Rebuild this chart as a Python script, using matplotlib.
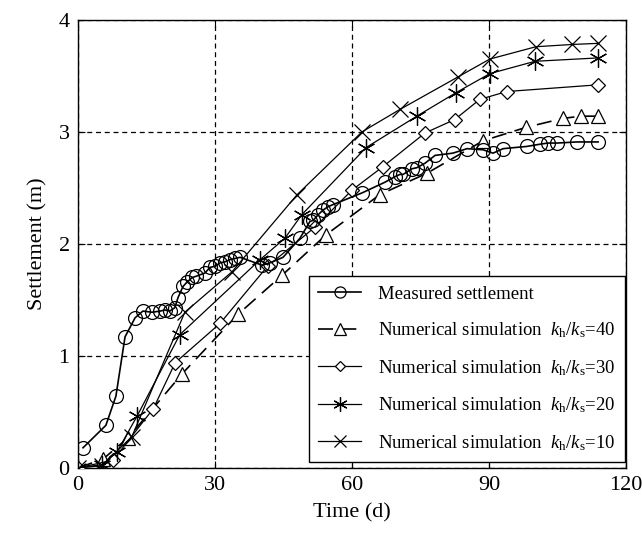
"""Settlement vs time: measured data and numerical simulations for several kh/ks."""
import matplotlib
matplotlib.use("Agg")
import matplotlib.pyplot as plt

plt.rcParams["font.family"] = ["Liberation Serif", "DejaVu Serif"]
plt.rcParams["mathtext.fontset"] = "custom"
plt.rcParams["mathtext.rm"] = "Liberation Serif"
plt.rcParams["mathtext.it"] = "Liberation Serif:italic"

# measured settlement
t_meas = [1.1, 6.1, 8.3, 10.3, 12.5, 14.2, 16.2, 18.0, 19.0, 20.1, 21.2, 21.9, 23.0,
          23.9, 25.0, 25.8, 27.8, 28.9, 30.0, 31.1, 32.2, 33.3, 34.4, 35.5, 40.3,
          42.0, 44.9, 48.6, 50.8, 51.5, 52.6, 53.6, 54.7, 55.8, 62.2, 67.2, 69.4,
          70.5, 71.2, 73.1, 74.2, 76.0, 78.2, 82.1, 85.2, 88.7, 90.9, 93.1, 98.3,
          101.2, 102.9, 104.9, 109.3, 113.9]
s_meas = [0.18, 0.38, 0.64, 1.17, 1.34, 1.40, 1.39, 1.40, 1.41, 1.40, 1.43, 1.52, 1.62,
          1.66, 1.70, 1.71, 1.74, 1.79, 1.80, 1.83, 1.84, 1.86, 1.87, 1.88, 1.81,
          1.83, 1.88, 2.05, 2.20, 2.21, 2.26, 2.30, 2.33, 2.35, 2.455, 2.55, 2.60,
          2.62, 2.62, 2.67, 2.68, 2.72, 2.79, 2.81, 2.85, 2.84, 2.81, 2.85, 2.87,
          2.89, 2.90, 2.90, 2.91, 2.91]

# kh/ks = 40
t_40 = [0, 5.5, 11.0, 22.8, 35.0, 44.7, 54.3, 66.1, 76.4, 88.7, 98.1, 106.2, 110.1, 113.9]
s_40 = [0, 0.08, 0.27, 0.84, 1.37, 1.72, 2.08, 2.44, 2.63, 2.92, 3.04, 3.12, 3.14, 3.14]

# kh/ks = 30
t_30 = [0, 7.7, 16.5, 21.3, 31.1, 41.5, 51.9, 60.0, 66.8, 76.0, 82.5, 88.0, 93.9, 113.9]
s_30 = [0, 0.07, 0.53, 0.94, 1.29, 1.80, 2.15, 2.48, 2.69, 2.99, 3.11, 3.29, 3.36, 3.42]

# kh/ks = 20
t_20 = [0, 5.3, 8.5, 12.9, 22.3, 39.9, 45.3, 49.0, 63.1, 74.2, 82.8, 90.2, 100.1, 113.9]
s_20 = [0, 0.03, 0.14, 0.46, 1.19, 1.86, 2.05, 2.26, 2.86, 3.14, 3.35, 3.52, 3.63, 3.66]

# kh/ks = 10
t_10 = [0, 5.3, 11.8, 23.4, 33.7, 48.0, 62.2, 70.5, 83.2, 90.2, 100.3, 108.2, 113.9]
s_10 = [0, 0.02, 0.28, 1.39, 1.75, 2.44, 3.00, 3.20, 3.49, 3.65, 3.76, 3.78, 3.79]

x_ticks = [0, 30, 60, 90, 120]
y_ticks = [0, 1, 2, 3, 4]

fig = plt.figure(figsize=(6.42, 5.36), dpi=100)
ax = fig.add_axes([0.1215, 0.127, 0.8535, 0.836])

sim_label = r"Numerical simulation  $k_\mathrm{h}/k_\mathrm{s}$=%d"

ax.plot(t_meas, s_meas, "-", color="black", lw=1.2, marker="o", ms=10,
        mfc="none", mew=0.9, label="Measured settlement", zorder=4)
ax.plot(t_40, s_40, color="black", lw=1.2, dashes=(9, 5), marker="^", ms=10,
        mfc="white", mew=0.9, label=sim_label % 40, zorder=3)
ax.plot(t_30, s_30, "-", color="black", lw=0.9, marker="D", ms=7,
        mfc="white", mew=0.9, label=sim_label % 30, zorder=3)
ax.plot(t_20, s_20, "-", color="black", lw=0.9, marker=(6, 2, 0), ms=13,
        mew=0.9, label=sim_label % 20, zorder=3)
ax.plot(t_10, s_10, "-", color="black", lw=0.9, marker="x", ms=11,
        mew=0.9, label=sim_label % 10, zorder=3)

ax.set_xlim(0, 120)
ax.set_ylim(0, 4)
ax.set_xticks(x_ticks)
ax.set_yticks(y_ticks)
ax.tick_params(direction="in", top=True, right=True, labelsize=16, length=5, pad=6)
ax.grid(True, color="black", linestyle=(0, (4, 3)), linewidth=0.9)
ax.set_axisbelow(True)
for sp in ax.spines.values():
    sp.set_linewidth(1.0)

ax.set_xlabel("Time (d)", fontsize=16, labelpad=6)
ax.set_ylabel("Settlement (m)", fontsize=16, labelpad=8)

leg = ax.legend(loc="lower right", bbox_to_anchor=(0.998, 0.013), fontsize=13.5,
                frameon=True, fancybox=False, edgecolor="black", framealpha=1,
                borderpad=0.5, labelspacing=0.95, handlelength=2.3,
                handletextpad=0.9, borderaxespad=0, markerscale=0.8)
leg.get_frame().set_linewidth(1.0)

fig.savefig("out.png", dpi=100, facecolor="white")
